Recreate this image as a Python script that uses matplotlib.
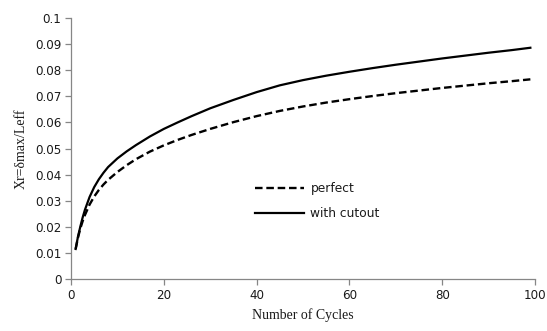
import matplotlib
matplotlib.use("Agg")
import matplotlib.pyplot as plt
from matplotlib.lines import Line2D

# Cycle numbers and normalised max deflection Xr for each specimen
cycles = [1, 1.5, 2, 2.5, 3, 4, 5, 6, 7, 8, 10, 12, 14, 17, 20, 23, 26, 30, 35, 40,
          45, 50, 55, 60, 65, 70, 75, 80, 85, 90, 95, 99]
xr_perfect = [0.0115, 0.0158, 0.0193, 0.0221, 0.0245, 0.0285, 0.0316, 0.0341, 0.0362,
              0.0380, 0.0410, 0.0436, 0.0459, 0.0488, 0.0512, 0.0533, 0.0552, 0.0575,
              0.0601, 0.0624, 0.0644, 0.0661, 0.0676, 0.0689, 0.0701, 0.0712, 0.0722,
              0.0732, 0.0741, 0.0750, 0.0758, 0.0765]
xr_cutout = [0.0115, 0.0162, 0.0200, 0.0235, 0.0265, 0.0314, 0.0352, 0.0382, 0.0407,
             0.0429, 0.0462, 0.0489, 0.0513, 0.0546, 0.0575, 0.0600, 0.0624, 0.0654,
             0.0686, 0.0716, 0.0742, 0.0762, 0.0779, 0.0794, 0.0808, 0.0821, 0.0833,
             0.0845, 0.0856, 0.0867, 0.0877, 0.0886]

x_ticks = [0, 20, 40, 60, 80, 100]
y_ticks = [0, 0.01, 0.02, 0.03, 0.04, 0.05, 0.06, 0.07, 0.08, 0.09, 0.1]
y_tick_labels = ["0", "0.01", "0.02", "0.03", "0.04", "0.05", "0.06", "0.07", "0.08", "0.09", "0.1"]

axis_grey = "#868686"
text_col = "#1a1a1a"

fig = plt.figure(figsize=(5.47, 3.31), dpi=100)
ax = fig.add_axes([71 / 547, 52 / 331, 464 / 547, 261 / 331])

dash = (0, (3.2, 1.6))
ax.plot(cycles, xr_perfect, color="black", lw=1.7, linestyle=dash,
        dash_capstyle="butt", dash_joinstyle="round")
ax.plot(cycles, xr_cutout, color="black", lw=1.6, solid_joinstyle="round")

ax.set_xlim(0, 100)
ax.set_ylim(0, 0.1)
ax.set_xticks(x_ticks)
ax.set_yticks(y_ticks)
ax.set_yticklabels(y_tick_labels)

for side in ("top", "right"):
    ax.spines[side].set_visible(False)
for side in ("left", "bottom"):
    ax.spines[side].set_color(axis_grey)
    ax.spines[side].set_linewidth(0.9)

ax.tick_params(axis="both", direction="out", length=4, width=0.9, color=axis_grey,
               labelsize=8.6, labelcolor=text_col, pad=3)
for lab in ax.get_xticklabels() + ax.get_yticklabels():
    lab.set_family("DejaVu Sans")

ax.set_xlabel("Number of Cycles", family="Liberation Serif", fontsize=10,
              color=text_col, labelpad=5)
ax.set_ylabel("Xr=δmax/Leff", family="Liberation Serif", fontsize=10,
              color=text_col, labelpad=5)

handles = [
    Line2D([], [], color="black", lw=1.7, linestyle=dash),
    Line2D([], [], color="black", lw=1.6),
]
leg = ax.legend(handles, ["perfect", "with cutout"], loc="upper left",
                bbox_to_anchor=(0.387, 0.39), frameon=False, fontsize=8.8,
                handlelength=4.0, handletextpad=0.5, labelspacing=1.0,
                borderaxespad=0)
for t in leg.get_texts():
    t.set_color(text_col)

fig.savefig("out.png", dpi=100)
